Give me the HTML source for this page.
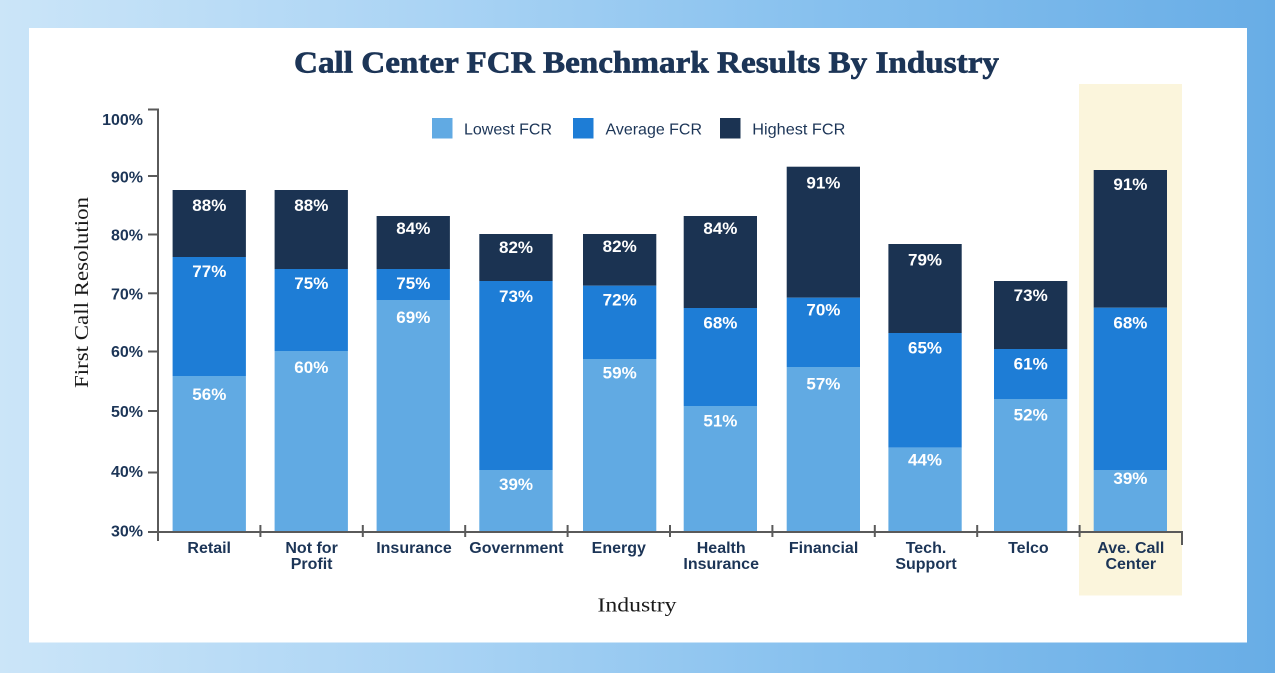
<!DOCTYPE html>
<html>
<head>
<meta charset="utf-8">
<style>
  html,body{margin:0;padding:0;}
  body{width:1275px;height:673px;overflow:hidden;background:linear-gradient(90deg,#cbe5f8 0%,#a9d3f4 35%,#86c0ee 65%,#68ade6 100%);}
  svg{display:block;}
  .t{font-family:"Liberation Sans",sans-serif;}
</style>
</head>
<body>
<svg width="1275" height="673" viewBox="0 0 1275 673" xmlns="http://www.w3.org/2000/svg">
  <!-- card -->
  <rect x="29" y="28" width="1218" height="614.5" fill="#ffffff"/>
  <!-- highlight -->
  <rect x="1079" y="84" width="103" height="511.5" fill="#fbf5dc"/>

  <!-- title -->
  <text x="294" y="72.5" font-family="'Liberation Serif',serif" font-weight="bold" font-size="31" fill="#1c3557" stroke="#1c3557" stroke-width="0.7" textLength="705" lengthAdjust="spacingAndGlyphs">Call Center FCR Benchmark Results By Industry</text>

  <!-- legend -->
  <rect x="432" y="118" width="20.5" height="20.5" fill="#61aae3"/>
  <text class="t" x="464" y="134.3" font-size="16" fill="#1c3557" textLength="88" lengthAdjust="spacingAndGlyphs">Lowest FCR</text>
  <rect x="573" y="118" width="20.5" height="20.5" fill="#1e7dd6"/>
  <text class="t" x="605.5" y="134.3" font-size="16" fill="#1c3557" textLength="96.5" lengthAdjust="spacingAndGlyphs">Average FCR</text>
  <rect x="720" y="118" width="20.5" height="20.5" fill="#1b3352"/>
  <text class="t" x="752.3" y="134.3" font-size="16" fill="#1c3557" textLength="93" lengthAdjust="spacingAndGlyphs">Highest FCR</text>

  <!-- y axis label -->
  <text transform="translate(88,292.5) rotate(-90)" text-anchor="middle" font-family="'Liberation Serif',serif" font-size="20" fill="#1a1a1a" textLength="191" lengthAdjust="spacingAndGlyphs">First Call Resolution</text>

  <!-- x axis label -->
  <text x="637" y="611.5" text-anchor="middle" font-family="'Liberation Serif',serif" font-size="20" fill="#1a1a1a" textLength="79" lengthAdjust="spacingAndGlyphs">Industry</text>

  <!-- y tick labels -->
  <g class="t" font-size="16" font-weight="bold" fill="#1c3557" text-anchor="end">
    <text x="143" y="125">100%</text>
    <text x="143" y="182.5">90%</text>
    <text x="143" y="240.5">80%</text>
    <text x="143" y="299.3">70%</text>
    <text x="143" y="357">60%</text>
    <text x="143" y="417">50%</text>
    <text x="143" y="477">40%</text>
    <text x="143" y="536.5">30%</text>
  </g>

  <!-- bars -->
  <g>
    <rect x="172.6" y="190" width="73.3" height="67" fill="#1b3352"/>
    <rect x="172.6" y="257" width="73.3" height="119" fill="#1e7dd6"/>
    <rect x="172.6" y="376" width="73.3" height="155" fill="#61aae3"/>
    <rect x="274.6" y="190" width="73.3" height="79" fill="#1b3352"/>
    <rect x="274.6" y="269" width="73.3" height="82" fill="#1e7dd6"/>
    <rect x="274.6" y="351" width="73.3" height="180" fill="#61aae3"/>
    <rect x="376.6" y="216" width="73.3" height="53" fill="#1b3352"/>
    <rect x="376.6" y="269" width="73.3" height="31" fill="#1e7dd6"/>
    <rect x="376.6" y="300" width="73.3" height="231" fill="#61aae3"/>
    <rect x="479.3" y="234" width="73.3" height="47" fill="#1b3352"/>
    <rect x="479.3" y="281" width="73.3" height="189" fill="#1e7dd6"/>
    <rect x="479.3" y="470" width="73.3" height="61" fill="#61aae3"/>
    <rect x="583" y="234" width="73.3" height="51.7" fill="#1b3352"/>
    <rect x="583" y="285.7" width="73.3" height="73.3" fill="#1e7dd6"/>
    <rect x="583" y="359" width="73.3" height="172" fill="#61aae3"/>
    <rect x="683.7" y="216" width="73.3" height="92" fill="#1b3352"/>
    <rect x="683.7" y="308" width="73.3" height="98" fill="#1e7dd6"/>
    <rect x="683.7" y="406" width="73.3" height="125" fill="#61aae3"/>
    <rect x="786.7" y="166.7" width="73.3" height="131" fill="#1b3352"/>
    <rect x="786.7" y="297.7" width="73.3" height="69.3" fill="#1e7dd6"/>
    <rect x="786.7" y="367" width="73.3" height="164" fill="#61aae3"/>
    <rect x="888.4" y="244" width="73.3" height="89" fill="#1b3352"/>
    <rect x="888.4" y="333" width="73.3" height="114.7" fill="#1e7dd6"/>
    <rect x="888.4" y="447.7" width="73.3" height="83.3" fill="#61aae3"/>
    <rect x="994" y="281" width="73.3" height="68" fill="#1b3352"/>
    <rect x="994" y="349" width="73.3" height="50" fill="#1e7dd6"/>
    <rect x="994" y="399" width="73.3" height="132" fill="#61aae3"/>
    <rect x="1093.7" y="170" width="73.3" height="137.7" fill="#1b3352"/>
    <rect x="1093.7" y="307.7" width="73.3" height="162.3" fill="#1e7dd6"/>
    <rect x="1093.7" y="470" width="73.3" height="61" fill="#61aae3"/>
  </g>

  <!-- bar labels -->
  <g class="t" font-size="17" font-weight="bold" fill="#ffffff" text-anchor="middle">
    <text x="209.3" y="211">88%</text><text x="209.3" y="277">77%</text><text x="209.3" y="400">56%</text>
    <text x="311.3" y="211">88%</text><text x="311.3" y="289">75%</text><text x="311.3" y="373">60%</text>
    <text x="413.3" y="234">84%</text><text x="413.3" y="289">75%</text><text x="413.3" y="323">69%</text>
    <text x="516" y="253">82%</text><text x="516" y="302">73%</text><text x="516" y="490">39%</text>
    <text x="619.7" y="252">82%</text><text x="619.7" y="305.3">72%</text><text x="619.7" y="378.3">59%</text>
    <text x="720.4" y="234">84%</text><text x="720.4" y="328.3">68%</text><text x="720.4" y="426.3">51%</text>
    <text x="823.4" y="188.7">91%</text><text x="823.4" y="315.7">70%</text><text x="823.4" y="389.3">57%</text>
    <text x="925" y="265.3">79%</text><text x="925" y="353.3">65%</text><text x="925" y="465.3">44%</text>
    <text x="1030.7" y="301">73%</text><text x="1030.7" y="369.3">61%</text><text x="1030.7" y="420.3">52%</text>
    <text x="1130.4" y="190">91%</text><text x="1130.4" y="328.7">68%</text><text x="1130.4" y="484">39%</text>
  </g>

  <!-- axes -->
  <g stroke="#5a5a5a" stroke-width="2" fill="none">
    <path d="M148,109.5 H158 V541"/>
    <path d="M148,176 H158"/>
    <path d="M148,234.5 H158"/>
    <path d="M148,293.3 H158"/>
    <path d="M148,351.5 H158"/>
    <path d="M148,411 H158"/>
    <path d="M148,472.5 H158"/>
    <path d="M148,532 H1182 V545"/>
    <path d="M260.4,525 V537"/>
    <path d="M362.8,525 V537"/>
    <path d="M465.2,525 V537"/>
    <path d="M567.6,525 V537"/>
    <path d="M670,525 V537"/>
    <path d="M772.4,525 V537"/>
    <path d="M874.8,525 V537"/>
    <path d="M977.2,525 V537"/>
    <path d="M1079.6,525 V537"/>
  </g>

  <!-- category labels -->
  <g class="t" font-size="16" font-weight="bold" fill="#1c3557" text-anchor="middle">
    <text x="209.2" y="553">Retail</text>
    <text x="311.6" y="553">Not for</text><text x="311.6" y="569">Profit</text>
    <text x="414" y="553">Insurance</text>
    <text x="516.4" y="553">Government</text>
    <text x="618.8" y="553">Energy</text>
    <text x="721.2" y="553">Health</text><text x="721.2" y="569">Insurance</text>
    <text x="823.6" y="553">Financial</text>
    <text x="926" y="553">Tech.</text><text x="926" y="569">Support</text>
    <text x="1028.4" y="553">Telco</text>
    <text x="1130.8" y="553">Ave. Call</text><text x="1130.8" y="569">Center</text>
  </g>
</svg>
</body>
</html>
